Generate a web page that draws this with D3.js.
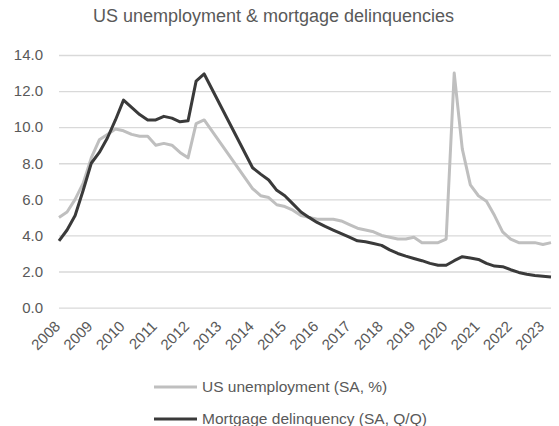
<!DOCTYPE html>
<html>
<head>
<meta charset="utf-8">
<script src="https://cdn.jsdelivr.net/npm/d3@7"></script>
<style>
  html, body { margin: 0; padding: 0; background: #fff; }
  svg { display: block; font-family: "Liberation Sans", Arial, sans-serif; }
</style>
</head>
<body>
<svg id="chart" width="559" height="426"></svg>
<script>
// Quarterly series, 2008 Q1 – 2023 Q2 (null = quarter not reported)
const years = [2008, 2009, 2010, 2011, 2012, 2013, 2014, 2015, 2016, 2017, 2018, 2019, 2020, 2021, 2022, 2023];
const yTicks = [0, 2, 4, 6, 8, 10, 12, 14];

const unemployment = [
  5.0, 5.3, 6.0, 6.9,
  8.3, 9.3, 9.6, 9.9,
  9.8, 9.6, 9.5, 9.5,
  9.0, 9.1, 9.0, 8.6,
  8.3, 10.2, 10.4, null,
  null, null, null, null,
  6.6, 6.2, 6.1, 5.7,
  5.6, 5.4, 5.1, 5.0,
  4.9, 4.9, 4.9, 4.8,
  4.6, 4.4, 4.3, 4.2,
  4.0, 3.9, 3.8, 3.8,
  3.9, 3.6, 3.6, 3.6,
  3.8, 13.0, 8.8, 6.8,
  6.2, 5.9, 5.1, 4.2,
  3.8, 3.6, 3.6, 3.6,
  3.5, 3.6
];

const delinquency = [
  3.7, 4.3, 5.1, 6.5,
  8.0, 8.6, 9.4, 10.4,
  11.5, 11.1, 10.7, 10.4,
  10.4, 10.6, 10.5, 10.3,
  10.35, 12.55, 12.95, null,
  null, null, null, null,
  7.75, 7.4, 7.07, 6.5,
  6.2, 5.75, 5.3, 5.0,
  4.72, 4.5, 4.3, 4.1,
  3.9, 3.7, 3.65, 3.55,
  3.45, 3.2, 3.0, 2.85,
  2.72, 2.6, 2.45, 2.35,
  2.35, 2.6, 2.82, 2.75,
  2.67, 2.45, 2.3, 2.27,
  2.1, 1.95, 1.85, 1.78,
  1.74, 1.7
];

const seriesNames = ["US unemployment (SA, %)", "Mortgage delinquency (SA, Q/Q)"];
const seriesColors = ["#bfbfbf", "#3a3a3a"];

const svg = d3.select("#chart");
const plotLeft = 59, plotRight = 551, plotTop = 55, plotBottom = 307.6;

const x = d3.scaleLinear().domain([0, unemployment.length - 1]).range([plotLeft, plotRight]);
const y = d3.scaleLinear().domain([0, 14]).range([plotBottom, plotTop]);

// Title
svg.append("text")
  .attr("x", 273.5).attr("y", 22)
  .attr("text-anchor", "middle")
  .attr("fill", "#595959")
  .style("font-size", "18px")
  .text("US unemployment & mortgage delinquencies");

// Horizontal gridlines and value labels
const yAxis = svg.append("g")
  .attr("transform", `translate(${plotLeft},0)`)
  .call(d3.axisLeft(y).tickValues(yTicks).tickFormat(d3.format(".1f"))
    .tickSize(-(plotRight - plotLeft)).tickPadding(16));
yAxis.select(".domain").remove();
yAxis.selectAll(".tick line").attr("stroke", "#d9d9d9").attr("stroke-width", 1.3);
yAxis.selectAll(".tick text").attr("fill", "#595959").style("font-size", "15px");

// Year labels, one per fourth quarter slot
const xg = svg.append("g");
years.forEach((yr, k) => {
  const px = x(k * 4);
  xg.append("text")
    .attr("transform", `translate(${px - 1.5},${plotBottom + 16}) rotate(-45)`)
    .attr("text-anchor", "end")
    .attr("dy", "0.35em")
    .attr("fill", "#595959")
    .style("font-size", "15px")
    .text(yr);
});

// Lines (missing quarters are bridged)
const line = d3.line().x(d => x(d[0])).y(d => y(d[1]));
[unemployment, delinquency].forEach((s, si) => {
  const pts = s.map((v, i) => [i, v]).filter(d => d[1] != null);
  svg.append("path")
    .attr("d", line(pts))
    .attr("fill", "none")
    .attr("stroke", seriesColors[si])
    .attr("stroke-width", 3)
    .attr("stroke-linejoin", "round");
});

// Legend
const legendY = [387, 419];
seriesNames.forEach((name, i) => {
  const g = svg.append("g").attr("transform", `translate(0,${legendY[i]})`);
  g.append("line").attr("x1", 154).attr("x2", 197).attr("y1", 0).attr("y2", 0)
    .attr("stroke", seriesColors[i]).attr("stroke-width", 3);
  g.append("text").attr("x", 202).attr("y", 0).attr("dy", "0.35em")
    .attr("fill", "#595959").style("font-size", "15.5px").text(name);
});
</script>
</body>
</html>
